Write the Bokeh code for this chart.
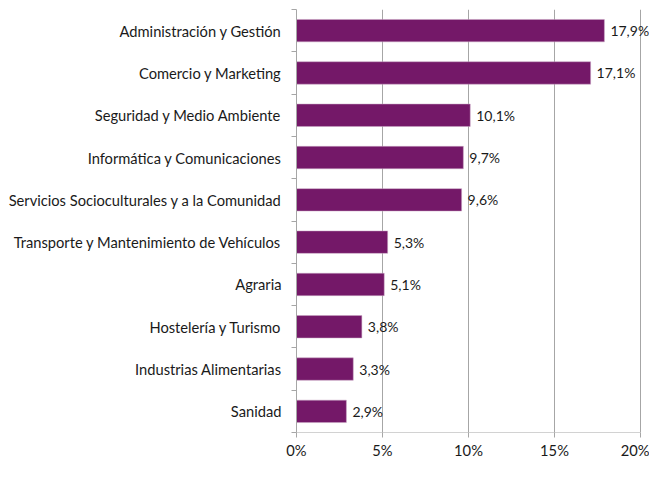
from bokeh.plotting import figure
from bokeh.models import ColumnDataSource, Range1d, FixedTicker, Label
from bokeh.embed import file_html
from bokeh.resources import INLINE

categories = [
    "Administración y Gestión",
    "Comercio y Marketing",
    "Seguridad y Medio Ambiente",
    "Informática y Comunicaciones",
    "Servicios Socioculturales y a la Comunidad",
    "Transporte y Mantenimiento de Vehículos",
    "Agraria",
    "Hostelería y Turismo",
    "Industrias Alimentarias",
    "Sanidad",
]
values = [17.9, 17.1, 10.1, 9.7, 9.6, 5.3, 5.1, 3.8, 3.3, 2.9]
x_ticks = [0, 5, 10, 15, 20]
x_tick_labels = ["0%", "5%", "10%", "15%", "20%"]

n = len(categories)
centers = [n - i - 0.5 for i in range(n)]
labels = [("%.1f" % v).replace(".", ",") + "%" for v in values]

FONT = "Lato"
FS = "14.7px"
TEXT_COLOR = "#1a1a1a"
GRID = "#a6a6a6"
BAR = "#741868"

W, H = 649, 461
LEFT = 296
AXIS_PX = 344  # pixel length of the 0..20% axis
x_end = x_ticks[-1] * (W - LEFT) / AXIS_PX

src = ColumnDataSource(dict(cat=categories, val=values, y=centers, lab=labels))

p = figure(width=W, height=H, output_backend="svg", toolbar_location=None,
           x_range=Range1d(0, x_end), y_range=Range1d(0, n),
           min_border_left=LEFT, min_border_right=0, min_border_top=9, min_border_bottom=20)
p.outline_line_color = None
p.background_fill_color = "white"

p.hbar(y="y", right="val", left=0, height=0.53, source=src,
       fill_color=BAR, line_color="#c9a6c4", line_width=0.5)

# bottom axis line limited to 0..20%
p.segment(x0=[x_ticks[0]], x1=[x_ticks[-1]], y0=[0], y1=[0], line_color=GRID, line_width=1)

for v, yc, lab in zip(values, centers, labels):
    p.add_layout(Label(x=v, y=yc, text=lab, x_offset=6,
                       text_baseline="middle", text_align="left",
                       text_font=FONT, text_font_size="14px", text_color=TEXT_COLOR,
                       level="overlay"))

# x axis
p.xaxis.ticker = FixedTicker(ticks=x_ticks)
p.xaxis.major_label_overrides = {t: l for t, l in zip(x_ticks, x_tick_labels)}
p.xaxis.axis_line_color = None
p.xaxis.major_tick_line_color = GRID
p.xaxis.major_tick_out = 5
p.xaxis.major_tick_in = 0
p.xaxis.minor_tick_line_color = None
p.xaxis.major_label_standoff = 3
p.xaxis.major_label_text_font = FONT
p.xaxis.major_label_text_font_size = FS
p.xaxis.major_label_text_color = TEXT_COLOR

# y axis
p.yaxis.ticker = FixedTicker(ticks=centers, minor_ticks=list(range(n + 1)))
p.yaxis.major_label_overrides = {c: name for c, name in zip(centers, categories)}
p.yaxis.axis_line_color = GRID
p.yaxis.major_tick_line_color = None
p.yaxis.major_tick_out = 0
p.yaxis.major_tick_in = 0
p.yaxis.minor_tick_line_color = GRID
p.yaxis.minor_tick_out = 5
p.yaxis.minor_tick_in = 0
p.yaxis.major_label_standoff = 10
p.yaxis.major_label_text_font = FONT
p.yaxis.major_label_text_font_size = FS
p.yaxis.major_label_text_color = TEXT_COLOR

p.xgrid.ticker = FixedTicker(ticks=x_ticks[1:])
p.xgrid.grid_line_color = GRID
p.ygrid.grid_line_color = None

open("out.html", "w").write(file_html(p, INLINE))
